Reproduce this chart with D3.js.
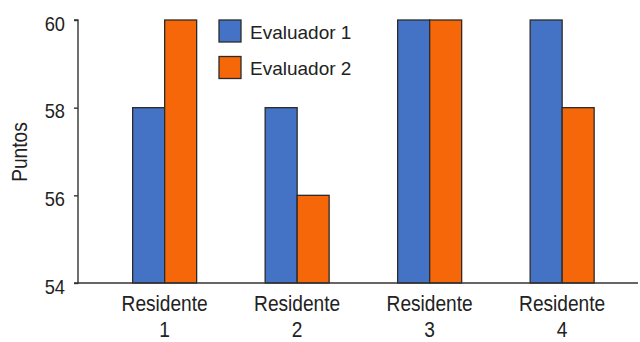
<!DOCTYPE html>
<html>
<head>
<meta charset="utf-8">
<script src="https://cdn.jsdelivr.net/npm/d3@7"></script>
<style>
  html, body { margin: 0; padding: 0; background: #fff; }
  svg { display: block; font-family: "Liberation Sans", Arial, sans-serif; }
</style>
</head>
<body>
<svg id="chart" width="640" height="342"></svg>
<script>
// Scores per resident from each evaluator
const categories = ["Residente 1", "Residente 2", "Residente 3", "Residente 4"];
const seriesNames = ["Evaluador 1", "Evaluador 2"];
const evaluador1 = [58, 58, 60, 60];
const evaluador2 = [60, 56, 60, 58];
const yTicks = [54, 56, 58, 60];
const colors = ["#4472C4", "#F6670A"];

const svg = d3.select("#chart");
const axisX = 78, plotTop = 20, plotBottom = 283;
const plotLeft = 98.4, plotRight = 628.4;
const squeeze = 0.87; // horizontal condensing of axis lettering

const x0 = d3.scaleBand().domain(categories).range([plotLeft, plotRight]).paddingInner(0.517).paddingOuter(0.2585);
const x1 = d3.scaleBand().domain(seriesNames).range([0, x0.bandwidth()]);
const y = d3.scaleLinear().domain([54, 60]).range([plotBottom, plotTop]);
const color = d3.scaleOrdinal().domain(seriesNames).range(colors);

const rows = categories.map((c, i) => ({
  cat: c,
  vals: [
    { name: seriesNames[0], value: evaluador1[i] },
    { name: seriesNames[1], value: evaluador2[i] }
  ]
}));

// Bars
const groups = svg.append("g").selectAll("g").data(rows).join("g")
  .attr("transform", d => `translate(${x0(d.cat)},0)`);
groups.selectAll("rect").data(d => d.vals).join("rect")
  .attr("x", d => x1(d.name))
  .attr("y", d => y(d.value))
  .attr("width", x1.bandwidth())
  .attr("height", d => y(54) - y(d.value))
  .attr("fill", d => color(d.name))
  .attr("stroke", "#2b2b2b")
  .attr("stroke-width", 1.3);

// Y axis
const yAxis = d3.axisLeft(y).tickValues(yTicks).tickSize(4).tickPadding(6).tickFormat(d3.format("d"));
const gy = svg.append("g").attr("transform", `translate(${axisX},0)`).call(yAxis);
gy.select(".domain").attr("stroke", "#333").attr("stroke-width", 1.4).attr("d", `M-4,${plotTop}H0V${plotBottom}H-4`);
gy.selectAll(".tick line").attr("stroke", "#333").attr("stroke-width", 1.4);
gy.selectAll(".tick text")
  .attr("x", 0).attr("dy", null)
  .attr("transform", `translate(-13,10) scale(${squeeze},1)`)
  .attr("font-size", 21).attr("fill", "#222")
  .attr("font-family", "Liberation Sans, Arial, sans-serif");

// X baseline and category labels
svg.append("line").attr("x1", axisX).attr("x2", 638).attr("y1", plotBottom).attr("y2", plotBottom)
  .attr("stroke", "#333").attr("stroke-width", 1.4);

const xl = svg.append("g").selectAll("text").data(categories).join("text")
  .attr("transform", d => `translate(${x0(d) + x0.bandwidth() / 2},311) scale(${squeeze},1)`)
  .attr("text-anchor", "middle")
  .attr("font-size", 22)
  .attr("fill", "#222");
xl.each(function(d) {
  const parts = d.split(" ");
  const t = d3.select(this);
  t.append("tspan").attr("x", 0).attr("dy", 0).text(parts[0]);
  t.append("tspan").attr("x", 0).attr("dy", 26).text(parts[1]);
});

// Y axis title
svg.append("text")
  .attr("transform", `translate(26.7,152) rotate(-90) scale(${squeeze},1)`)
  .attr("text-anchor", "middle")
  .attr("font-size", 22)
  .attr("fill", "#222")
  .text("Puntos");

// Legend
const legend = svg.append("g").selectAll("g").data(seriesNames).join("g")
  .attr("transform", (d, i) => `translate(219,${20 + i * 36.5})`);
legend.append("rect").attr("width", 22).attr("height", 22)
  .attr("fill", d => color(d)).attr("stroke", "#2b2b2b").attr("stroke-width", 1.3);
legend.append("text").attr("x", 31).attr("y", 18.5)
  .attr("font-size", 19).attr("fill", "#222").text(d => d);
</script>
</body>
</html>
